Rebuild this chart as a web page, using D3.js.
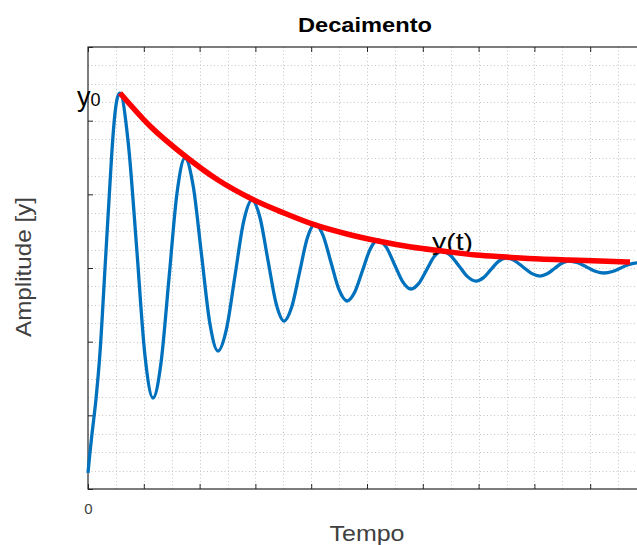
<!DOCTYPE html>
<html>
<head>
<meta charset="utf-8">
<script src="https://cdn.jsdelivr.net/npm/d3@7"></script>
<style>
  body { margin: 0; background: #fff; }
  svg { display: block; font-family: "Liberation Sans", Arial, sans-serif; }
</style>
</head>
<body>
<svg id="chart" width="637" height="545"></svg>
<script>
// damped oscillation (time, amplitude)
const waveT = [0, 0.036, 0.072, 0.143, 0.215, 0.305, 0.394, 0.43, 0.484, 0.53, 0.573,
    0.721, 0.869, 1.017, 1.165,
    1.308, 1.452, 1.595, 1.738,
    1.886, 2.034, 2.182, 2.330,
    2.482, 2.635, 2.787, 2.939,
    3.083, 3.226, 3.370, 3.513,
    3.652, 3.791, 3.929, 4.068,
    4.212, 4.355, 4.499, 4.642,
    4.781, 4.920, 5.058, 5.197,
    5.345, 5.493, 5.641, 5.789,
    5.928, 6.067, 6.205, 6.344,
    6.496, 6.649, 6.801, 6.953,
    7.088, 7.222, 7.357, 7.491,
    7.643, 7.796, 7.948, 8.100,
    8.230, 8.360, 8.490, 8.620,
    8.777, 8.934, 9.091, 9.247,
    9.398, 9.549, 9.699, 9.850, 10.0];
const waveY = [0.22, 0.50, 0.75, 1.22, 1.85, 3.0, 4.15, 4.6, 5.10, 5.32, 5.375,
    4.70, 3.305, 1.84, 1.235,
    1.71, 2.864, 4.016, 4.493,
    4.109, 3.183, 2.257, 1.873,
    2.173, 2.898, 3.623, 3.923,
    3.682, 3.102, 2.521, 2.280,
    2.473, 2.939, 3.404, 3.597,
    3.444, 3.075, 2.705, 2.552,
    2.673, 2.966, 3.259, 3.380,
    3.283, 3.048, 2.812, 2.715,
    2.791, 2.973, 3.155, 3.231,
    3.171, 3.027, 2.883, 2.823,
    2.869, 2.980, 3.090, 3.136,
    3.100, 3.014, 2.927, 2.891,
    2.921, 2.993, 3.065, 3.095,
    3.071, 3.014, 2.956, 2.932,
    2.952, 3.001, 3.050, 3.070, 3.05];

// decay envelope y(t)
const envT = [0.573, 1.111, 1.738, 2.330, 2.939, 3.513, 4.068, 4.642, 5.197, 5.789, 6.344,
    6.953, 7.491, 8.100, 8.620, 9.176, 9.713];
const envY = [5.375, 4.927, 4.520, 4.194, 3.936, 3.746, 3.584, 3.461, 3.366, 3.285, 3.231,
    3.176, 3.149, 3.122, 3.108, 3.095, 3.081];

const xTicks = [0, 1, 2, 3, 4, 5, 6, 7, 8, 9, 10];
const yTicks = [0, 1, 2, 3, 4, 5, 6];

const svg = d3.select("#chart");
const plotL = 88, plotT = 47, plotB = 489, plotR = 646;

const x = d3.scaleLinear().domain([0, 10]).range([plotL, plotR]);
const y = d3.scaleLinear().domain([0, 6]).range([plotB, plotT]);

// dotted grid
const grid = svg.append("g").attr("stroke", "#c4c4c4").attr("stroke-width", 1)
    .attr("stroke-dasharray", "1,2.5");
grid.selectAll(".gx").data(d3.range(0.5, 10, 0.5)).join("line")
    .attr("x1", d => Math.round(x(d)) + 0.5).attr("x2", d => Math.round(x(d)) + 0.5)
    .attr("y1", plotT).attr("y2", plotB);
grid.selectAll(".gy").data(d3.range(0.25, 6, 0.25)).join("line")
    .attr("y1", d => Math.round(y(d)) + 0.5).attr("y2", d => Math.round(y(d)) + 0.5)
    .attr("x1", plotL).attr("x2", plotR);

// axes (MATLAB style, ticks inward)
const axisColor = "#262626";
svg.append("g").attr("transform", `translate(0,${plotB})`)
    .call(d3.axisBottom(x).tickValues(xTicks).tickSize(-5).tickPadding(14)
        .tickFormat(d => d === 0 ? "0" : ""))
    .call(g => g.select(".domain").remove());
svg.append("g").attr("transform", `translate(0,${plotT})`)
    .call(d3.axisTop(x).tickValues(xTicks).tickSize(-5).tickFormat(""))
    .call(g => g.select(".domain").remove());
svg.append("g").attr("transform", `translate(${plotL},0)`)
    .call(d3.axisLeft(y).tickValues(yTicks).tickSize(-5).tickFormat(""))
    .call(g => g.select(".domain").remove());
svg.selectAll(".tick line").attr("stroke", axisColor);
svg.selectAll(".tick text").attr("fill", "#404040")
    .style("font-size", "15px").style("font-family", "Liberation Sans, Arial, sans-serif");

svg.append("rect").attr("x", plotL).attr("y", plotT)
    .attr("width", plotR - plotL).attr("height", plotB - plotT)
    .attr("fill", "none").attr("stroke", axisColor).attr("stroke-width", 1.2);

// oscillation
const wave = waveT.map((t, i) => [t, waveY[i]]);
svg.append("path").datum(wave)
    .attr("fill", "none").attr("stroke", "#0072BD").attr("stroke-width", 3.3)
    .attr("stroke-linejoin", "round")
    .attr("d", d3.line().x(d => x(d[0])).y(d => y(d[1])).curve(d3.curveMonotoneX));

// annotations
const y0 = svg.append("text").attr("x", 77).attr("y", 106).attr("fill", "#000");
y0.append("tspan").style("font-size", "27px").text("y");
y0.append("tspan").style("font-size", "18px").text("0");

svg.append("text").attr("x", 432).attr("y", 250).attr("fill", "#000")
    .style("font-size", "24px").attr("textLength", 41).attr("lengthAdjust", "spacingAndGlyphs")
    .text("y(t)");

// envelope
const env = envT.map((t, i) => [t, envY[i]]);
svg.append("path").datum(env)
    .attr("fill", "none").attr("stroke", "#FF0000").attr("stroke-width", 5.5)
    .attr("d", d3.line().x(d => x(d[0])).y(d => y(d[1])).curve(d3.curveMonotoneX));

// titles
svg.append("text").attr("x", 365).attr("y", 32).attr("text-anchor", "middle")
    .style("font-size", "20px").style("font-weight", "bold").attr("fill", "#000")
    .attr("textLength", 134).attr("lengthAdjust", "spacingAndGlyphs").text("Decaimento");
svg.append("text").attr("x", 367).attr("y", 541).attr("text-anchor", "middle")
    .style("font-size", "22px").attr("fill", "#404040")
    .attr("textLength", 75).attr("lengthAdjust", "spacingAndGlyphs").text("Tempo");
svg.append("text").attr("transform", "translate(31,267) rotate(-90)")
    .attr("text-anchor", "middle").style("font-size", "22px").attr("fill", "#404040")
    .attr("textLength", 140).attr("lengthAdjust", "spacingAndGlyphs").text("Amplitude [y]");
</script>
</body>
</html>
